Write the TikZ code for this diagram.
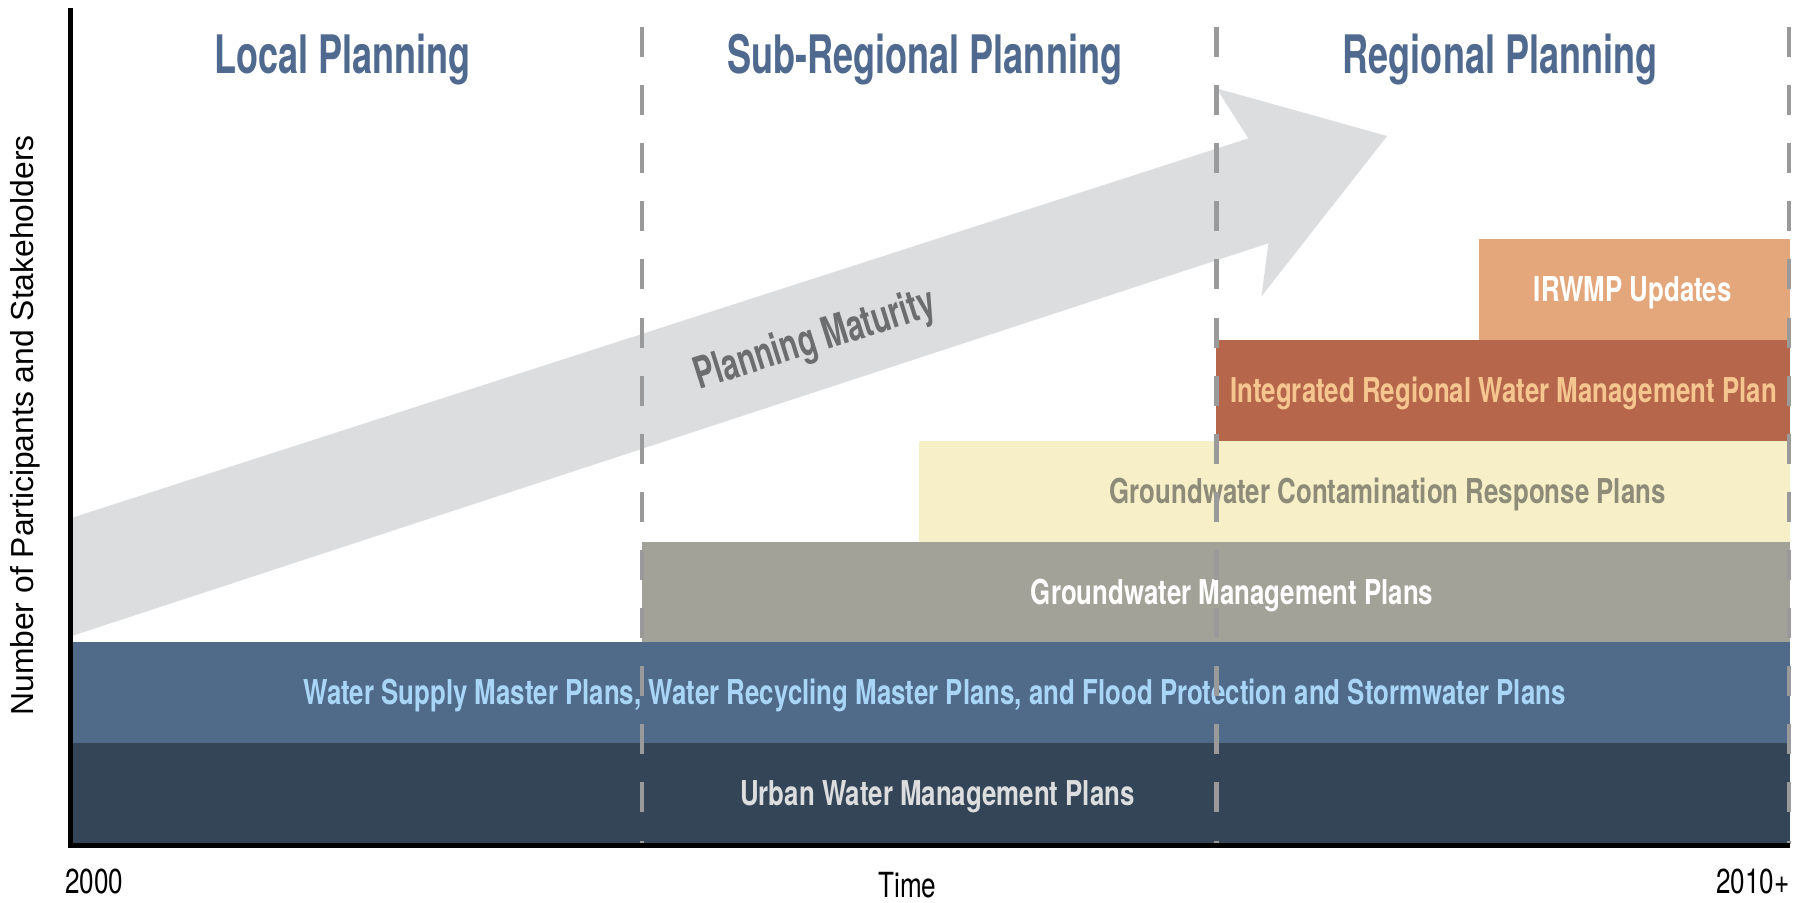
\documentclass[tikz,border=0pt]{standalone}
\usepackage{fontspec}
\usepackage{tikz}
\newfontfamily\headfont{TeX Gyre Heros}[FakeStretch=0.68]
\newfontfamily\barfont{TeX Gyre Heros}[FakeStretch=0.755]
\newfontfamily\axisfont{Liberation Sans}
\definecolor{headc}{HTML}{4F6A8E}
\definecolor{arrowc}{HTML}{DCDDDF}
\definecolor{maturec}{HTML}{6C6D6F}
\definecolor{divc}{HTML}{9A9A9A}
\definecolor{urbanc}{HTML}{344557}
\definecolor{urbantxt}{HTML}{DCDDDE}
\definecolor{supplyc}{HTML}{506A8A}
\definecolor{supplytxt}{HTML}{A9D6F7}
\definecolor{gwmc}{HTML}{A3A298}
\definecolor{gwcc}{HTML}{F6EFC7}
\definecolor{gwctxt}{HTML}{8E8C78}
\definecolor{irwmc}{HTML}{B6674B}
\definecolor{irwmtxt}{HTML}{F6C690}
\definecolor{updc}{HTML}{E4A67B}

\begin{document}
\begin{tikzpicture}[x=0.5pt,y=0.5pt,
	head/.style={font={\headfont\bfseries\fontsize{23}{26}\selectfont}, text=headc, anchor=base, inner sep=0pt},
	barlbl/.style={font={\barfont\bfseries\fontsize{14.85}{17}\selectfont}, anchor=base, inner sep=0pt},
	ticklbl/.style={font={\barfont\fontsize{15}{17}\selectfont}, inner sep=0pt},
	divider/.style={draw=divc, line width=1.75pt, dash pattern=on 13pt off 12.2pt},
	axis/.style={draw=black, line width=1.9pt}]
	\useasboundingbox (0,0) rectangle (1568,783);
	\coordinate (origin) at (61,49.6);
	\coordinate (ytop) at (61,776);
	\coordinate (xend) at (1552.5,49.6);

	\fill[arrowc] (61,231) -- (61,333.5) -- (1082.6,663) -- (1055,706.4) -- (1203,665) -- (1094,526) -- (1100,572) -- cycle;
	\node[font={\headfont\bfseries\fontsize{19}{22}\selectfont}, text=maturec, rotate=17.5] (maturity) at (707,487) {Planning Maturity};

	\fill[urbanc] (61,51) rectangle (1552.5,138.4);
	\fill[supplyc] (61,138.4) rectangle (1552.5,225.8);
	\fill[gwmc] (557,225.8) rectangle (1552.5,313.2);
	\fill[gwcc] (797,313.2) rectangle (1552.5,400.6);
	\fill[irwmc] (1055,400.6) rectangle (1552.5,488);
	\fill[updc] (1283,488) rectangle (1552.5,575.4);

	\node[barlbl, text=urbantxt] (uwmp) at (813,84.3) {Urban Water Management Plans};
	\node[barlbl, text=supplytxt] (supply) at (810.5,171.7) {Water Supply Master Plans, Water Recycling Master Plans, and Flood Protection and Stormwater Plans};
	\node[barlbl, text=white] (gwmp) at (1068.5,259.1) {Groundwater Management Plans};
	\node[barlbl, text=gwctxt] (gwcrp) at (1203.5,346.5) {Groundwater Contamination Response Plans};
	\node[barlbl, text=irwmtxt] (irwmp) at (1304,433.9) {Integrated Regional Water Management Plan};
	\node[barlbl, text=white] (updates) at (1416,521.3) {IRWMP Updates};

	\foreach \x in {557,1055,1551.5}
		\draw[divider] (\x,759.6) -- (\x,51);

	\node[head] (local) at (297,719.4) {Local Planning};
	\node[head] (subreg) at (802,719.4) {Sub-Regional Planning};
	\node[head] (regional) at (1301,719.4) {Regional Planning};

	\draw[axis] (ytop) -- (origin) -- (xend);
	\node[rotate=90, font={\axisfont\fontsize{13.8}{16}\selectfont}] (ylabel) at (22,414) {Number of Participants and Stakeholders};
	\node[ticklbl, anchor=base west] (start) at (56,8.5) {2000};
	\node[ticklbl, anchor=base] (time) at (787,5) {Time};
	\node[ticklbl, anchor=base east] (end) at (1552.5,8.5) {2010+};
\end{tikzpicture}
\end{document}
